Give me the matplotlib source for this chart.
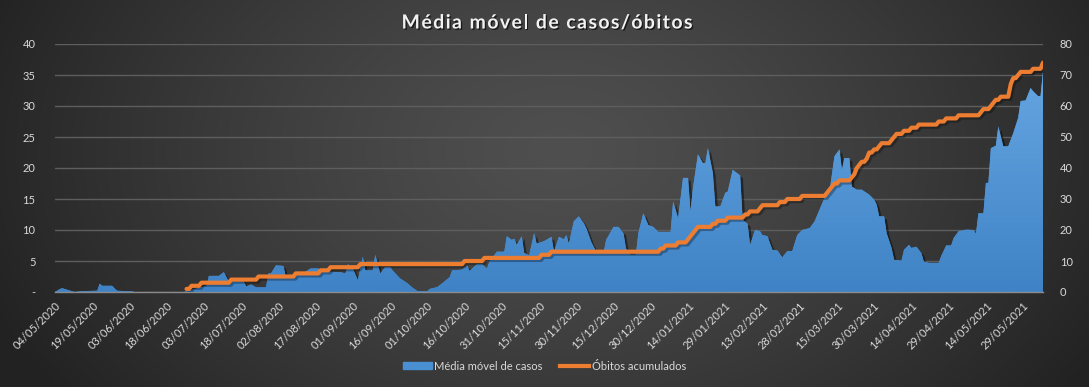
import numpy as np
import pandas as pd
import matplotlib
matplotlib.use('Agg')
import matplotlib.pyplot as plt
import matplotlib.dates as mdates
import matplotlib.patheffects as pe
from matplotlib.colors import LinearSegmentedColormap
from matplotlib.patches import Patch
from matplotlib.lines import Line2D

# média móvel de casos (eixo esquerdo)
casos_datas = [
    '2020-05-04', '2020-05-06', '2020-05-07', '2020-05-11', '2020-05-12', '2020-05-15',
    '2020-05-21', '2020-05-22', '2020-05-23', '2020-05-27', '2020-05-29', '2020-06-04',
    '2020-06-05', '2020-06-25', '2020-06-28', '2020-07-02', '2020-07-04', '2020-07-05',
    '2020-07-09', '2020-07-11', '2020-07-13', '2020-07-19', '2020-07-20', '2020-07-22',
    '2020-07-24', '2020-07-28', '2020-07-29', '2020-07-30', '2020-08-01', '2020-08-04',
    '2020-08-05', '2020-08-11', '2020-08-15', '2020-08-18', '2020-08-20', '2020-08-27',
    '2020-08-29', '2020-08-30', '2020-09-01', '2020-09-03', '2020-09-05', '2020-09-06',
    '2020-09-09', '2020-09-10', '2020-09-12', '2020-09-14', '2020-09-16', '2020-09-17',
    '2020-09-20', '2020-09-23', '2020-09-25', '2020-09-27', '2020-10-01', '2020-10-02',
    '2020-10-05', '2020-10-07', '2020-10-10', '2020-10-11', '2020-10-15', '2020-10-17',
    '2020-10-18', '2020-10-21', '2020-10-23', '2020-10-25', '2020-10-26', '2020-10-29',
    '2020-11-01', '2020-11-02', '2020-11-04', '2020-11-05', '2020-11-06', '2020-11-08',
    '2020-11-09', '2020-11-11', '2020-11-13', '2020-11-14', '2020-11-17', '2020-11-20',
    '2020-11-21', '2020-11-23', '2020-11-25', '2020-11-26', '2020-11-27', '2020-11-29',
    '2020-12-01', '2020-12-03', '2020-12-04', '2020-12-06', '2020-12-08', '2020-12-11',
    '2020-12-12', '2020-12-15', '2020-12-17', '2020-12-19', '2020-12-20', '2020-12-22',
    '2020-12-24', '2020-12-25', '2020-12-27', '2020-12-29', '2020-12-31', '2021-01-02',
    '2021-01-07', '2021-01-08', '2021-01-10', '2021-01-12', '2021-01-14', '2021-01-15',
    '2021-01-16', '2021-01-18', '2021-01-20', '2021-01-21', '2021-01-22', '2021-01-24',
    '2021-01-25', '2021-01-27', '2021-01-29', '2021-01-30', '2021-02-01', '2021-02-04',
    '2021-02-05', '2021-02-07', '2021-02-08', '2021-02-10', '2021-02-12', '2021-02-13',
    '2021-02-15', '2021-02-17', '2021-02-19', '2021-02-21', '2021-02-23', '2021-02-25',
    '2021-02-27', '2021-03-01', '2021-03-04', '2021-03-06', '2021-03-08', '2021-03-10',
    '2021-03-12', '2021-03-14', '2021-03-16', '2021-03-17', '2021-03-18', '2021-03-20',
    '2021-03-21', '2021-03-23', '2021-03-25', '2021-03-28', '2021-03-30', '2021-03-31',
    '2021-04-01', '2021-04-03', '2021-04-04', '2021-04-06', '2021-04-07', '2021-04-10',
    '2021-04-11', '2021-04-13', '2021-04-14', '2021-04-16', '2021-04-18', '2021-04-19',
    '2021-04-21', '2021-04-25', '2021-04-26', '2021-04-28', '2021-04-30', '2021-05-01',
    '2021-05-03', '2021-05-06', '2021-05-09', '2021-05-10', '2021-05-11', '2021-05-13',
    '2021-05-14', '2021-05-15', '2021-05-16', '2021-05-18', '2021-05-19', '2021-05-21',
    '2021-05-23', '2021-05-25', '2021-05-27', '2021-05-28', '2021-05-30', '2021-06-01',
    '2021-06-02', '2021-06-04', '2021-06-05', '2021-06-06',
]
casos_valores = [
    0, 0.5, 0.6, 0.1, 0, 0.15,
    0.2, 1.35, 1.0, 1.0, 0.2, 0.1,
    0, 0, 0.3, 0.8, 0.9, 2.6,
    2.6, 3.2, 1.7, 1.7, 0.9, 1.2,
    0.75, 0.75, 3.0, 3.0, 4.3, 4.2,
    2.4, 2.8, 3.8, 3.8, 3.3, 3.2,
    3.0, 4.5, 3.8, 1.9, 5.7, 3.5,
    3.5, 6.0, 3.0, 4.0, 4.0, 3.5,
    2.2, 1.4, 0.7, 0.15, 0.15, 0.5,
    0.8, 1.4, 2.4, 3.5, 3.6, 4.3,
    3.4, 4.5, 4.5, 3.8, 4.9, 6.5,
    6.5, 9.0, 8.4, 8.6, 7.6, 9.0,
    6.3, 5.9, 9.5, 7.8, 8.2, 8.9,
    6.5, 8.9, 8.5, 9.2, 7.8, 11.4,
    12.2, 11.1, 10.3, 8.1, 6.5, 6.3,
    8.4, 10.5, 10.5, 9.5, 7.0, 6.0,
    6.0, 9.5, 12.7, 10.8, 10.5, 9.7,
    9.7, 14.6, 11.9, 18.4, 18.4, 13.0,
    16.8, 22.2, 20.8, 20.8, 23.2, 19.2,
    13.8, 13.8, 16.0, 16.2, 19.7, 18.8,
    11.7, 11.0, 7.6, 10.0, 9.8, 9.2,
    9.0, 6.8, 6.7, 5.6, 6.6, 6.6,
    9.2, 10.0, 10.3, 11.4, 13.3, 15.2,
    16.2, 21.9, 23.0, 19.7, 21.6, 21.6,
    17.0, 16.5, 16.5, 15.7, 14.9, 14.1,
    12.2, 12.2, 9.5, 7.1, 5.2, 5.05,
    6.8, 7.6, 7.1, 7.3, 6.3, 4.9,
    4.7, 4.7, 5.8, 7.5, 7.5, 8.7,
    9.8, 10.05, 10.0, 9.4, 12.7, 12.7,
    17.6, 17.6, 23.2, 23.6, 26.7, 23.5,
    23.5, 25.6, 28.1, 30.8, 30.9, 32.9,
    32.4, 31.6, 31.6, 35.6,
]

# óbitos acumulados (eixo direito) - datas em que o total muda
obitos_datas = [
    '2020-06-26', '2020-06-28', '2020-07-02', '2020-07-14', '2020-07-25', '2020-08-09',
    '2020-08-19', '2020-08-23', '2020-09-04', '2020-10-16', '2020-10-24', '2020-11-16',
    '2020-11-20', '2021-01-03', '2021-01-05', '2021-01-10', '2021-01-14', '2021-01-15',
    '2021-01-16', '2021-01-17', '2021-01-18', '2021-01-24', '2021-01-26', '2021-01-30',
    '2021-02-06', '2021-02-08', '2021-02-12', '2021-02-13', '2021-02-20', '2021-02-23',
    '2021-03-01', '2021-03-11', '2021-03-12', '2021-03-13', '2021-03-14', '2021-03-16',
    '2021-03-21', '2021-03-22', '2021-03-23', '2021-03-24', '2021-03-25', '2021-03-27',
    '2021-03-28', '2021-03-30', '2021-04-01', '2021-04-02', '2021-04-06', '2021-04-07',
    '2021-04-08', '2021-04-11', '2021-04-14', '2021-04-17', '2021-04-25', '2021-04-28',
    '2021-05-03', '2021-05-12', '2021-05-13', '2021-05-16', '2021-05-17', '2021-05-18',
    '2021-05-20', '2021-05-24', '2021-05-25', '2021-05-27', '2021-05-28', '2021-06-02',
    '2021-06-06',
]
obitos_valores = [
    1, 2, 3, 4, 5, 6,
    7, 8, 9, 10, 11, 12,
    13, 14, 15, 16, 17, 18,
    19, 20, 21, 22, 23, 24,
    25, 26, 27, 28, 29, 30,
    31, 32, 33, 34, 35, 36,
    37, 38, 40, 41, 42, 43,
    45, 46, 47, 48, 49, 50,
    51, 52, 53, 54, 55, 56,
    57, 58, 59, 60, 61, 62,
    63, 67, 69, 70, 71, 72,
    74,
]

ticks_datas = pd.date_range('2020-05-04', '2021-05-29', freq='15D')
yticks_esq = [0, 5, 10, 15, 20, 25, 30, 35, 40]
ylabels_esq = ['-', '5', '10', '15', '20', '25', '30', '35', '40']
yticks_dir = [0, 10, 20, 30, 40, 50, 60, 70, 80]
titulo = 'Média móvel de casos/óbitos'

plt.rcParams['font.family'] = ['Lato', 'DejaVu Sans']
cor_texto = '#d9d9d9'
azul = '#4a8fd2'
laranja = '#ed7d31'

fig = plt.figure(figsize=(10.89, 3.87), dpi=100)

# fundo com gradiente radial
bg = fig.add_axes([0, 0, 1, 1], zorder=-10)
yy, xx = np.mgrid[0:387, 0:1089]
r = np.sqrt(((xx - 560) / 620.0) ** 2 + ((yy - 150) / 420.0) ** 2)
r = np.clip(r, 0, 1)
c0 = np.array([0x4f, 0x4f, 0x4f]) / 255
c1 = np.array([0x22, 0x22, 0x22]) / 255
img = c0 + (c1 - c0) * r[..., None] ** 1.3
bg.imshow(img, aspect='auto', extent=[0, 1, 0, 1])
bg.axis('off')

ax = fig.add_axes([55 / 1089, 1 - 292 / 387, (1043 - 55) / 1089, (292 - 44) / 387])
ax.patch.set_alpha(0)

# área dos casos com gradiente
x = mdates.date2num(pd.to_datetime(casos_datas))
y = np.array(casos_valores)
poly = ax.fill_between(x, 0, y, color=azul, lw=0, zorder=2)
poly.set_path_effects([pe.SimplePatchShadow(offset=(2, -2), shadow_rgbFace='black', alpha=0.45), pe.Normal()])

cmap = LinearSegmentedColormap.from_list('azul', ['#3f83c6', '#6aa9e4'])
grad = np.linspace(0, 1, 256).reshape(-1, 1)
im = ax.imshow(grad, extent=[x[0], x[-1], 0, 40], origin='lower', aspect='auto', cmap=cmap, zorder=3)
im.set_clip_path(poly.get_paths()[0], transform=ax.transData)

xmin = mdates.date2num(pd.Timestamp('2020-05-04'))
xmax = mdates.date2num(pd.Timestamp('2021-06-06'))
ax.set_xlim(xmin, xmax)
ax.set_ylim(0, 40)
ax.set_yticks(yticks_esq)
ax.set_yticklabels(ylabels_esq)
ax.grid(axis='y', color='#5e5e5e', lw=1)
ax.set_axisbelow(True)
for s in ['top', 'left', 'right']:
    ax.spines[s].set_visible(False)
ax.spines['bottom'].set_color('#8c8c8c')
ax.spines['bottom'].set_linewidth(1)
ax.spines['bottom'].set_zorder(5)
ax.tick_params(axis='y', length=0, pad=14, labelsize=8, labelcolor=cor_texto)
ax.set_xticks(mdates.date2num(ticks_datas))
ax.set_xticklabels([d.strftime('%d/%m/%Y') for d in ticks_datas], rotation=45,
                   ha='right', rotation_mode='anchor')
ax.tick_params(axis='x', length=0, pad=6, labelsize=8, labelcolor=cor_texto)

# linha de óbitos: cada mudança é feita em um dia (degrau levemente inclinado)
xo = mdates.date2num(pd.to_datetime(obitos_datas))
lx, ly = [xo[0]], [obitos_valores[0]]
for i in range(1, len(xo)):
    lx += [xo[i] - 1, xo[i]]
    ly += [obitos_valores[i - 1], obitos_valores[i]]

ax2 = ax.twinx()
ax2.plot(lx, ly, color=laranja, lw=3.0, solid_joinstyle='round', solid_capstyle='round',
         path_effects=[pe.SimpleLineShadow(offset=(1.5, -1.5), shadow_color='black', alpha=0.3), pe.Normal()])
ax2.set_ylim(0, 80)
ax2.set_yticks(yticks_dir)
ax2.tick_params(axis='y', length=0, pad=12, labelsize=8, labelcolor=cor_texto)
for s in ax2.spines.values():
    s.set_visible(False)
ax2.set_xlim(xmin, xmax)

# título com espaçamento entre letras
renderer = fig.canvas.get_renderer()
tam_titulo = 14
espaco = 1.4
efeito = [pe.withSimplePatchShadow(offset=(1, -1), shadow_rgbFace='black', alpha=0.6)]

def largura(txt):
    t = fig.text(0, 0, txt, fontsize=tam_titulo, fontweight='bold')
    w = t.get_window_extent(renderer).width
    t.remove()
    return w

pos = []
for i, ch in enumerate(titulo):
    if ch == ' ':
        pos.append(None)
        continue
    pos.append(largura(titulo[:i + 1]) - largura(ch) + i * espaco)
total = largura(titulo) + (len(titulo) - 1) * espaco
x0 = 547 - total / 2
for ch, p in zip(titulo, pos):
    if p is None:
        continue
    fig.text((x0 + p) / 1089, 1 - 23 / 387, ch, ha='left', va='center', fontsize=tam_titulo,
             fontweight='bold', color='#f2f2f2', path_effects=efeito)

handles = [Patch(color=azul), Line2D([0], [0], color=laranja, lw=3.0)]
fig.legend(handles, ['Média móvel de casos', 'Óbitos acumulados'], loc='center',
           bbox_to_anchor=(0.5, 1 - 366 / 387), ncol=2, frameon=False, fontsize=8,
           labelcolor=cor_texto, handlelength=2.6, handleheight=0.6, columnspacing=1.6,
           handletextpad=0.2)

fig.savefig('out.png', dpi=100)
